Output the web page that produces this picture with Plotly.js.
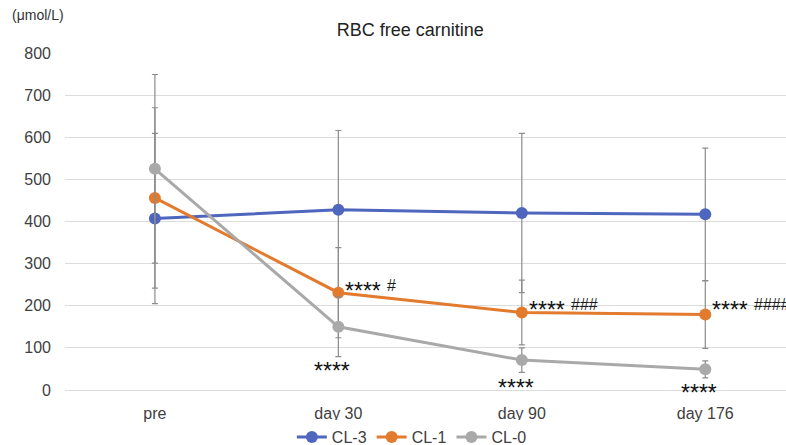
<!DOCTYPE html>
<html>
<head>
<meta charset="utf-8">
<script src="https://cdn.plot.ly/plotly-3.0.1.min.js"></script>
<style>html,body{margin:0;padding:0;background:#fff;}#chart{width:786px;height:445px;}</style>
</head>
<body>
<div id="chart"></div>
<script>
const categories = ["pre", "day 30", "day 90", "day 176"];
const cl3 = [407, 428, 420, 417];
const cl3Sd = [202, 188, 189, 157];
const cl1 = [456, 231, 184, 179];
const cl1Sd = [214, 107, 77, 80];
const cl0 = [525, 150, 71, 49];
const cl0Sd = [224, 71, 29, 20];

// significance marks: stars next to / below points, hashes after stars
const starText = ["****", "****", "****", "****", "****", "****"];
const hashText = ["#", "", "###", "", "####", ""];
const markCat = [1, 1, 2, 2, 3, 3];
const markVal = [247, 57, 202, 17, 202, 5];
const markSide = ["right", "below", "right", "below", "right", "below"];

const colors = {cl3: "#4f66be", cl1: "#e27b2d", cl0: "#a9a9a9"};
const FONT = "Liberation Sans, Arial, Helvetica, sans-serif";

function trace(name, y, sd, color) {
  return {
    type: "scatter", mode: "lines+markers", name: name,
    x: categories, y: y,
    line: {color: color, width: 3},
    marker: {color: color, size: 12},
    error_y: {type: "data", array: sd, visible: true, color: "#8c8c8c", thickness: 1.2, width: 3}
  };
}

const data = [
  trace("CL-3", cl3, cl3Sd, colors.cl3),
  trace("CL-1", cl1, cl1Sd, colors.cl1),
  trace("CL-0", cl0, cl0Sd, colors.cl0)
];

const annotations = [];
starText.forEach((t, i) => {
  const right = markSide[i] === "right";
  annotations.push({
    x: markCat[i], y: markVal[i], xref: "x", yref: "y",
    text: t, showarrow: false,
    xanchor: right ? "left" : "center", yanchor: "middle",
    xshift: right ? 5 : -6, yshift: -5,
    font: {family: FONT, size: 23, color: "#111"}
  });
  if (hashText[i]) {
    annotations.push({
      x: markCat[i], y: markVal[i], xref: "x", yref: "y",
      text: hashText[i], showarrow: false,
      xanchor: "left", yanchor: "middle",
      xshift: 47, yshift: 0,
      font: {family: FONT, size: 16, color: "#1a1a1a"}
    });
  }
});
annotations.push({
  x: (10 - 65) / 721, y: (390 - 15) / 337, xref: "paper", yref: "paper",
  xanchor: "left", yanchor: "middle",
  text: "(μmol/L)", showarrow: false,
  font: {family: FONT, size: 14, color: "#333"}
});

const layout = {
  width: 786, height: 445,
  margin: {l: 65, r: 0, t: 53, b: 55, autoexpand: false},
  paper_bgcolor: "#fff", plot_bgcolor: "#fff",
  font: {family: FONT, color: "#404040"},
  title: {text: "RBC free carnitine", x: 0.522, xref: "container", y: 0.933, yanchor: "middle",
          font: {size: 18, color: "#222"}},
  xaxis: {type: "category", range: [-0.49, 3.44], showgrid: false, zeroline: false, showline: false,
          ticks: "", ticklabelstandoff: 12, tickfont: {size: 16, color: "#404040"}},
  yaxis: {range: [0, 800], dtick: 100, showgrid: true, gridcolor: "#dcdcdc", gridwidth: 1,
          zeroline: true, zerolinecolor: "#dcdcdc", zerolinewidth: 1, showline: false,
          ticks: "", ticklabelstandoff: 13, tickfont: {size: 16, color: "#404040"}},
  legend: {orientation: "h", xref: "container", yref: "container", x: 0.524, xanchor: "center",
           y: 0.018, yanchor: "middle",
           font: {size: 16, color: "#404040"}, itemwidth: 30, tracegroupgap: 0},
  showlegend: true,
  annotations: annotations
};

Plotly.newPlot("chart", data, layout, {displayModeBar: false, staticPlot: true});
</script>
</body>
</html>
